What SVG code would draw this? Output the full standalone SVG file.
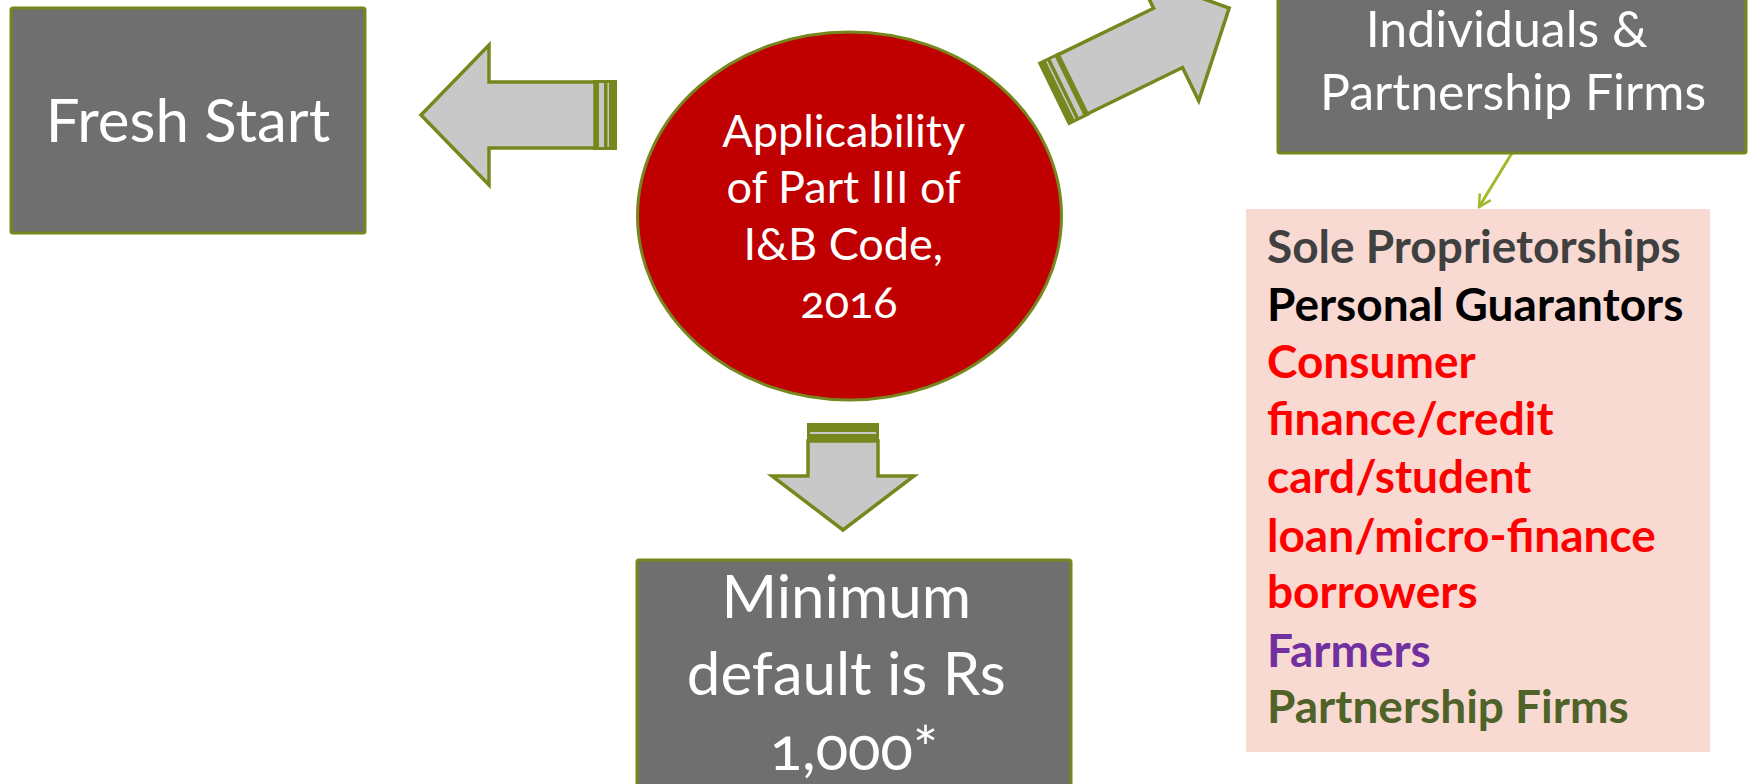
<svg xmlns="http://www.w3.org/2000/svg" width="1750" height="784" viewBox="0 0 1750 784">
  <style>
    .box { fill: #6f6f6f; stroke: #76881d; stroke-width: 3; }
    .boxtext { font-family: Lato, "Open Sans", "Liberation Sans", sans-serif; fill: #ffffff; text-anchor: middle; }
    .arrowbody { fill: #c8c8c8; stroke: #76881d; stroke-width: 3.5; stroke-linejoin: miter; }
    .band { fill: #76881d; }
    .gap { fill: #c8c8c8; }
    .list { font-family: Lato, "Open Sans", "Liberation Sans", sans-serif; font-weight: 700; font-size: 46px; }
    .link { fill: none; stroke: #9fba2a; stroke-width: 3; }
  </style>
  <defs>
    <!-- block arrow pointing along +x, striped tail at x=0, tip at x=196 -->
    <g id="blockArrow">
      <rect class="band" x="0" y="-35" width="24" height="70"/>
      <rect class="gap" x="8" y="-32" width="1.5" height="64"/>
      <rect class="gap" x="13" y="-32" width="5" height="64"/>
      <path class="arrowbody" d="M22,-33 L128,-33 L128,-70 L196,0 L128,70 L128,33 L22,33 Z"/>
    </g>
    <marker id="openHead" viewBox="0 0 20 20" refX="18" refY="10" markerWidth="16" markerHeight="16" markerUnits="userSpaceOnUse" orient="auto">
      <path d="M3,2 L18,10 L3,18" fill="none" stroke="#9fba2a" stroke-width="3"/>
    </marker>
  </defs>

  <rect x="0" y="0" width="1750" height="784" fill="#ffffff"/>

  <!-- connectors -->
  <g id="connectors">
    <use href="#blockArrow" transform="translate(617,115) rotate(180)"/>
    <use href="#blockArrow" transform="translate(1053,94) rotate(-26)"/>
    <g id="down-arrow">
      <rect class="band" x="807" y="423" width="72" height="19"/>
      <rect class="gap" x="810" y="432" width="66" height="2"/>
      <path class="arrowbody" d="M808,441 L878,441 L878,476 L914,476 L843,530 L772,476 L808,476 Z"/>
    </g>
    <line class="link" x1="1512" y1="153" x2="1479" y2="207" marker-end="url(#openHead)"/>
  </g>

  <g id="fresh-start">
    <rect class="box" x="11" y="8" width="354" height="225" rx="2"/>
    <text class="boxtext" x="188" y="142" font-size="60">Fresh Start</text>
  </g>

  <g id="applicability">
    <ellipse cx="849.5" cy="216" rx="212" ry="184" fill="#c00000" stroke="#76881d" stroke-width="3"/>
    <text class="boxtext" font-size="45">
      <tspan x="849" y="147">Applicability</tspan>
      <tspan x="849" y="203">of Part III of</tspan>
      <tspan x="849" y="260">I&amp;B Code,</tspan>
      <tspan x="849" y="318" style="font-variant-numeric: oldstyle-nums">2016</tspan>
    </text>
  </g>

  <g id="individuals">
    <rect class="box" x="1278" y="-20" width="468" height="173" rx="2"/>
    <text class="boxtext" font-size="50">
      <tspan x="1513" y="47">Individuals &amp;</tspan>
      <tspan x="1513" y="110">Partnership Firms</tspan>
    </text>
  </g>

  <g id="minimum-default">
    <rect class="box" x="637" y="560" width="434" height="240" rx="2"/>
    <text class="boxtext" font-size="60">
      <tspan x="854" y="618">Minimum</tspan>
      <tspan x="854" y="695">default is Rs</tspan>
      <tspan x="854" y="770" style="font-variant-numeric: oldstyle-nums">1,000*</tspan>
    </text>
  </g>

  <g id="categories">
    <rect x="1246" y="209" width="464" height="543" fill="#f8dad3"/>
    <text class="list" x="1267" y="263" fill="#404040">Sole Proprietorships</text>
    <text class="list" x="1267" y="321" fill="#000000">Personal Guarantors</text>
    <text class="list" fill="#ff0000">
      <tspan x="1267" y="378">Consumer</tspan>
      <tspan x="1267" y="435">finance/credit</tspan>
      <tspan x="1267" y="493">card/student</tspan>
      <tspan x="1267" y="552">loan/micro-finance</tspan>
      <tspan x="1267" y="608">borrowers</tspan>
    </text>
    <text class="list" x="1267" y="667" fill="#7030a0">Farmers</text>
    <text class="list" x="1267" y="723" fill="#4f6228">Partnership Firms</text>
  </g>
</svg>
